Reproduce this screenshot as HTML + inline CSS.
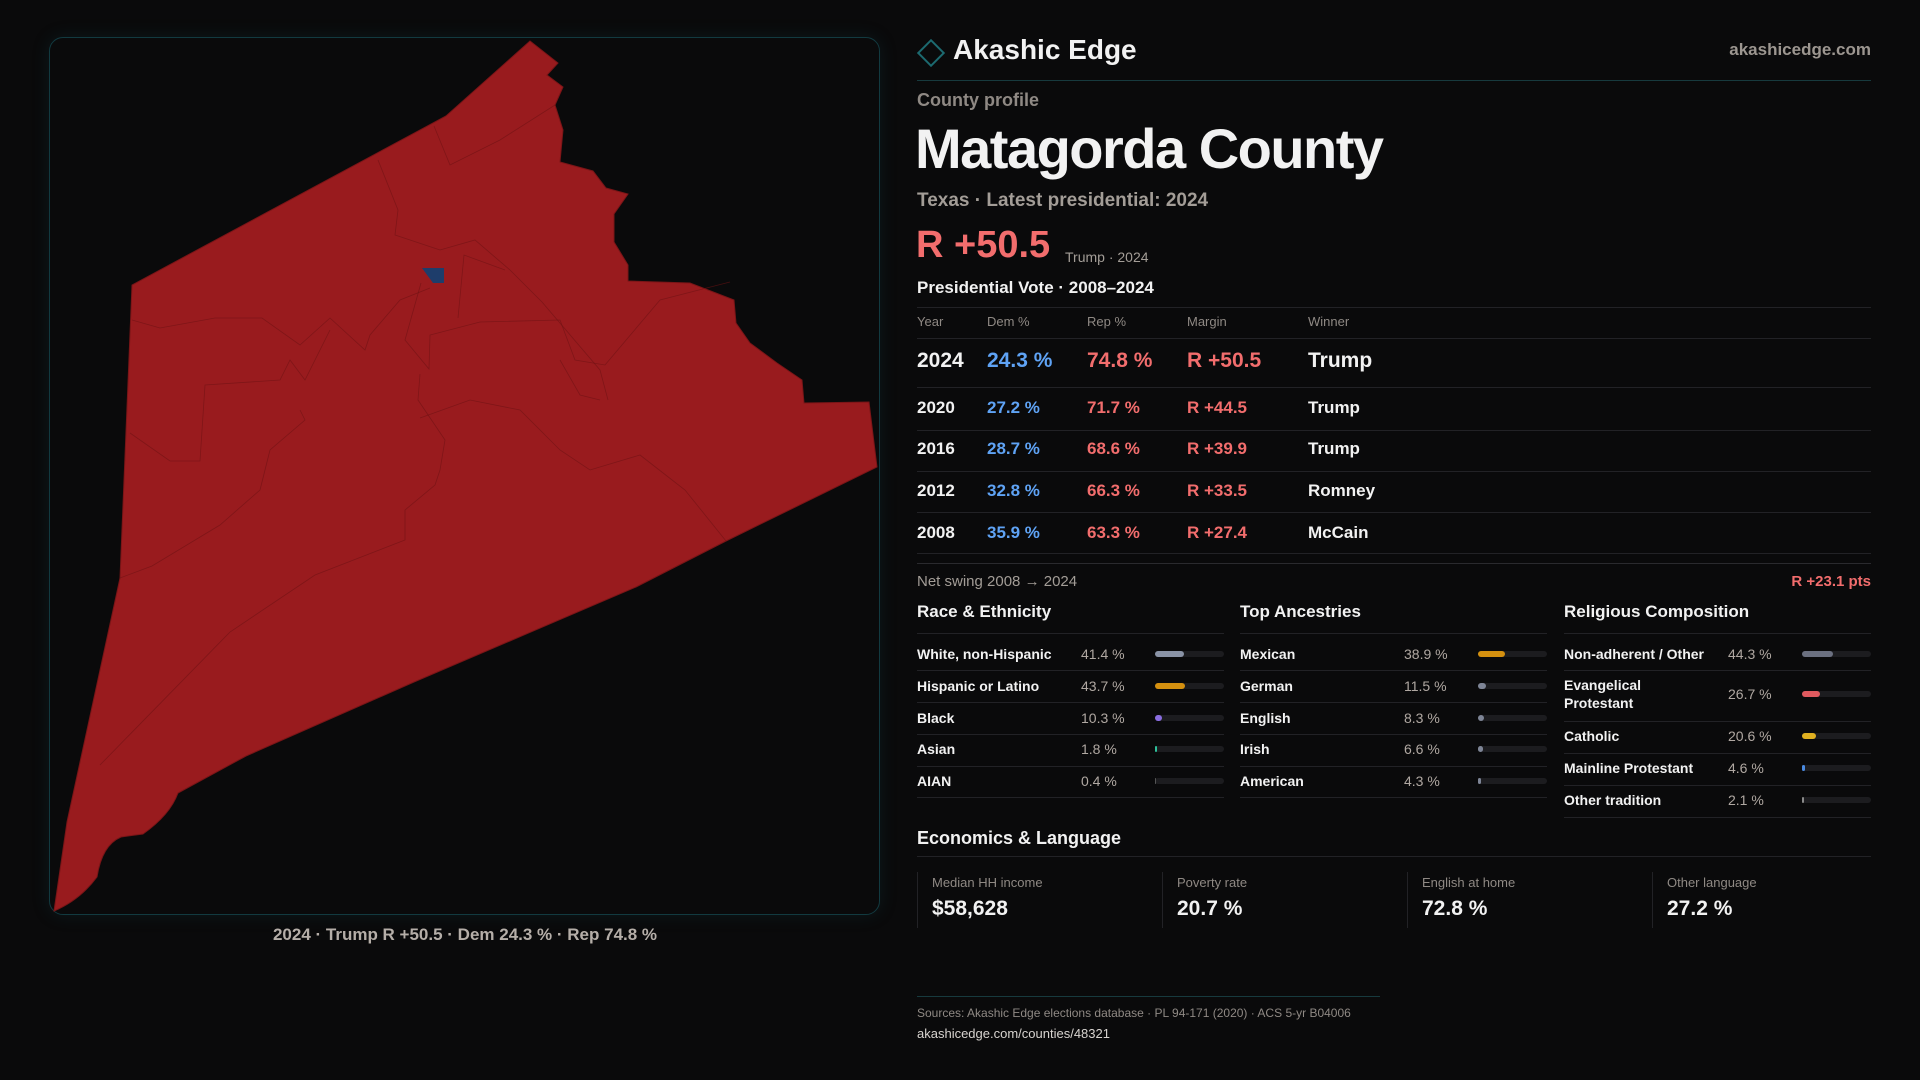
<!DOCTYPE html>
<html><head><meta charset="utf-8">
<style>
*{box-sizing:border-box;margin:0;padding:0}
body{width:1920px;height:1080px;background:#0a0a0b;color:#f2f2f2;font-family:"Liberation Sans",sans-serif;position:relative;overflow:hidden}
.abs{position:absolute;white-space:nowrap}
.gray{color:#a8a29e}
.line{position:absolute;height:1px;background:#222226}
.red{color:#f26d6d}.blue{color:#5fa3f5}
</style></head><body>
<div style="position:absolute;left:49px;top:37px;width:831px;height:878px;border:1px solid #123a40;border-radius:14px;box-shadow:0 0 18px rgba(20,90,100,0.18)"></div>
<svg style="position:absolute;left:0;top:0" width="900" height="930">
<path fill="#991b1e" stroke="#7a1517" stroke-width="1" d="M530,41 L558,63 L547,75 L563,87 L555,105 L563,130 L560,162 L593,171 L606,188 L628,194 L614,214 L614,242 L628,265 L628,281 L690,283 L734,300 L736,323 L750,343 L777,363 L802,380 L804,403 L869,402 L877,467 L726,541 L636,587 L414,682 L246,756 L178,793 Q170,815 143,834 L121,837 Q102,845 97,877 Q80,900 54,911 L67,822 L120,578 L132,285 L446,116 Z"/>
<g fill="none" stroke="#6e1214" stroke-width="0.8" stroke-opacity="0.6">
<path d="M434,126 L450,165 L500,140 L555,105"/>
<path d="M378,160 L398,210 L395,235 L440,250 L475,240 L510,270 L542,302 L600,370 L608,400"/>
<path d="M132,320 L160,328 L215,318 L262,318 L300,345 L330,318 L365,350 L370,335 L400,300 L430,288"/>
<path d="M421,283 L405,340 L429,369 L430,335 L480,322 L560,320 L575,360 L605,365 L660,300 L730,282"/>
<path d="M458,318 L464,255 L505,270"/>
<path d="M130,433 L170,461 L200,461 L205,385 L280,380 L290,360 L305,380 L330,330"/>
<path d="M120,578 L152,566 L220,525 L260,490 L270,450 L305,420 L300,410"/>
<path d="M420,374 L418,400 L445,440 L440,470 L435,485 L405,510 L405,540 L315,575 L230,632 L100,765"/>
<path d="M420,418 L470,400 L520,410 L560,450 L590,470 L640,455 L685,490 L726,541"/>
<path d="M560,360 L580,395 L600,400"/>
</g>
<path fill="#1e3d6b" d="M422,268 L444,268 L444,283 L433,283 Z"/>
</svg>
<div class="abs gray" style="left:465px;top:925px;transform:translateX(-50%);font-size:17px;font-weight:bold;color:#b5aea8">2024 · Trump R +50.5 · Dem 24.3 % · Rep 74.8 %</div>

<div style="position:absolute;left:921px;top:43px;width:20px;height:20px;border:2px solid #1c6a70;transform:rotate(45deg)"></div>
<div class="abs" style="left:953px;top:34px;font-size:28px;font-weight:bold">Akashic Edge</div>
<div class="abs gray" style="right:49px;top:40px;font-size:17px;font-weight:bold;color:#9c9690">akashicedge.com</div>
<div class="line" style="left:917px;top:80px;width:954px;background:#173a3e"></div>
<div class="abs gray" style="left:917px;top:90px;font-size:18px;font-weight:bold;color:#8f8984">County profile</div>
<div class="abs" style="left:915px;top:116px;font-size:56px;font-weight:bold;letter-spacing:-1.5px">Matagorda County</div>
<div class="abs gray" style="left:917px;top:190px;font-size:19px;font-weight:bold;color:#a39d97">Texas · Latest presidential: 2024</div>
<div class="abs red" style="left:916px;top:224px;font-size:38px;font-weight:bold">R +50.5</div>
<div class="abs gray" style="left:1065px;top:249px;font-size:14px;color:#a39d97">Trump · 2024</div>
<div class="abs" style="left:917px;top:278px;font-size:17px;font-weight:bold">Presidential Vote · 2008–2024</div>
<div class="line" style="left:917px;top:307px;width:954px"></div>
<div id="vote"></div>
<div class="line" style="left:917px;top:563px;width:954px;background:#2a2a2e"></div>
<div class="abs gray" style="left:917px;top:573px;font-size:15px;color:#a39d97">Net swing 2008 → 2024</div>
<div class="abs red" style="right:49px;top:573px;font-size:15px;font-weight:bold">R +23.1 pts</div>
<div id="demo"></div>
<div class="abs" style="left:917px;top:828px;font-size:18px;font-weight:bold">Economics &amp; Language</div>
<div class="line" style="left:917px;top:856px;width:954px"></div>
<div id="econ"></div>
<div class="line" style="left:917px;top:996px;width:463px;background:#173a3e"></div>
<div class="abs gray" style="left:917px;top:1006px;font-size:12px;color:#8f8984">Sources: Akashic Edge elections database · PL 94-171 (2020) · ACS 5-yr B04006</div>
<div class="abs" style="left:917px;top:1026px;font-size:13px;color:#d8d4d0">akashicedge.com/counties/48321</div>
<script>
const years=["2024","2020","2016","2012","2008"];
const demPct=[24.3,27.2,28.7,32.8,35.9];
const repPct=[74.8,71.7,68.6,66.3,63.3];
const winners=["Trump","Trump","Trump","Romney","McCain"];
const raceLabels=["White, non-Hispanic","Hispanic or Latino","Black","Asian","AIAN"];
const raceValues=[41.4,43.7,10.3,1.8,0.4];
const ancLabels=["Mexican","German","English","Irish","American"];
const ancValues=[38.9,11.5,8.3,6.6,4.3];
const relLabels=["Non-adherent / Other","Evangelical<br>Protestant","Catholic","Mainline Protestant","Other tradition"];
const relValues=[44.3,26.7,20.6,4.6,2.1];
const econLabels=["Median HH income","Poverty rate","English at home","Other language"];
const econValues=["$58,628","20.7 %","72.8 %","27.2 %"];

function mk(parent,html,css){const d=document.createElement('div');d.className='abs';d.innerHTML=html;d.style.cssText+=css;parent.appendChild(d);return d;}
const B=document.body;
const cols=[917,987,1087,1187,1308];
["Year","Dem %","Rep %","Margin","Winner"].forEach((h,i)=>{
 const e=mk(B,h,`left:${cols[i]}px;top:314px;font-size:13px;color:#8f8984`);
 
 
});
mk(B,'',`left:917px;top:338px;width:954px;height:1px;background:#222226`);
const rowY=[361,408,449,491,533],lineY=[387,430,471,512,553];
years.forEach((y,i)=>{
 const big=i===0, fs=big?21:17, fw='bold';
 const m=(repPct[i]-demPct[i]).toFixed(1);
 const vals=[y,demPct[i].toFixed(1)+' %',repPct[i].toFixed(1)+' %','R +'+m,winners[i]];
 const colr=['#f2f2f2','#5fa3f5','#f26d6d','#f26d6d','#f2f2f2'];
 vals.forEach((v,j)=>{
  const e=mk(B,v,`left:${cols[j]}px;top:${rowY[i]-fs*0.58}px;font-size:${fs}px;font-weight:${fw};color:${colr[j]}`);
  
  
 });
 const l=mk(B,'',`left:917px;top:${lineY[i]}px;width:954px;height:1px;background:#222226`);
 
 
});
function section(x,title,labels,values,colors,rows,lines){
 const h=mk(B,title,`left:${x}px;top:602px;font-size:17px;font-weight:bold`);
 
 
 mk(B,'',`left:${x}px;top:633px;width:307px;height:1px;background:#222226`);
 labels.forEach((lb,i)=>{
  const two=lb.includes('<br>');
  const t=mk(B,lb,`left:${x}px;top:${rows[i]-(two?18:9)}px;font-size:14px;font-weight:bold;line-height:18px`);
  
  
  const v=mk(B,values[i].toFixed(1)+' %',`left:${x+164}px;top:${rows[i]-9}px;font-size:14px;color:#b0a8a2;line-height:18px`);
  
  
  const track=mk(B,'',`left:${x+238}px;top:${rows[i]-3}px;width:69px;height:6px;border-radius:3px;background:#1c1c1f`);
  
  
  const w=Math.max(69*values[i]/100,values[i]>1?2:0);
  const f=document.createElement('div');
  f.style.cssText=`position:absolute;left:0;top:0;height:6px;border-radius:3px;width:${w}px;background:${colors[i]}`;
  
  
  track.appendChild(f);
  mk(B,'',`left:${x}px;top:${lines[i]}px;width:307px;height:1px;background:#222226`);
 });
}
const stdRows=[654,686,718,749,781],stdLines=[670,702,734,766,797];
section(917,"Race &amp; Ethnicity",raceLabels,raceValues,["#8a93a6","#d4900f","#8a6de0","#2ec09a","#555"],stdRows,stdLines);
section(1240,"Top Ancestries",ancLabels,ancValues,["#d4900f","#7e8596","#7e8596","#7e8596","#7e8596"],stdRows,stdLines);
section(1564,"Religious Composition",relLabels,relValues,["#6b7080","#e05a5f","#e0b020","#4a8ae0","#8a8a8a"],[654,694,736,768,800],[670,721,753,785,817]);
econLabels.forEach((lb,i)=>{
 const x=917+i*245;
 const c=mk(B,'',`left:${x}px;top:872px;width:240px;height:56px;border-left:1px solid #222226`);
 
 
 const l=mk(B,lb,`left:${x+15}px;top:875px;font-size:13px;color:#8f8984`);
 
 
 const v=mk(B,econValues[i],`left:${x+15}px;top:897px;font-size:21px;font-weight:bold`);
 
 
});
</script>
</body></html>
